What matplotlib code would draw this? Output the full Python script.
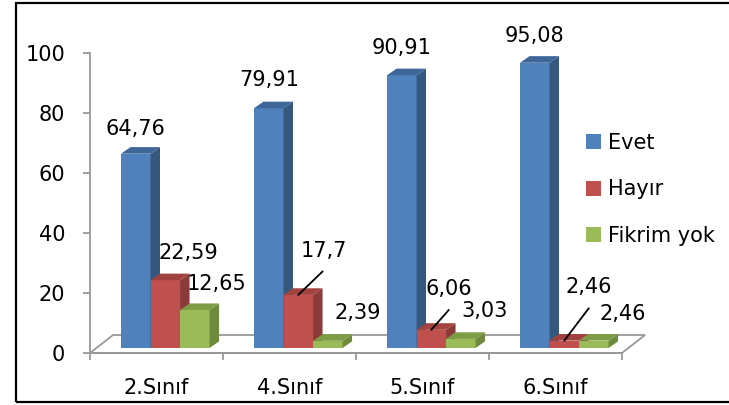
import matplotlib
matplotlib.use("Agg")
import matplotlib.pyplot as plt
from matplotlib.patches import Polygon, Patch, Rectangle

categories = ["2.Sınıf", "4.Sınıf", "5.Sınıf", "6.Sınıf"]
series_names = ["Evet", "Hayır", "Fikrim yok"]
evet = [64.76, 79.91, 90.91, 95.08]
hayir = [22.59, 17.7, 6.06, 2.46]
fikrim_yok = [12.65, 2.39, 3.03, 2.46]
y_ticks = [0, 20, 40, 60, 80, 100]

# label offsets in pixels (dx, dy up) from the top-front center of each bar
label_offsets = [
    [(0, 25), (0, 28), (0, 27), (0, 27)],
    [(23, 27), (26, 44), (18, 41), (24, 54)],
    [(22, 26), (30, 28), (24, 28), (29, 27)],
]
leader = [
    [False, False, False, False],
    [False, True, True, True],
    [False, False, False, False],
]

front = ["#4F81BD", "#C0504D", "#9BBB59"]
side = ["#36587F", "#8A3A38", "#6F8A3C"]
top = ["#3E6698", "#A2423F", "#7E9C45"]

W, H = 729, 405
fig = plt.figure(figsize=(W / 100, H / 100), dpi=100)
ax = fig.add_axes([90 / W, 52 / H, (622 - 90) / W, 300 / H])
ax.set_xlim(0, 4)
ax.set_ylim(0, 100)

gray = "#989898"
fs = 15.0

# floor (depth in data units)
fdx, fdy = 0.173, 6.0
ax.add_patch(Polygon([(0, 0), (4, 0), (4 + fdx, fdy), (fdx, fdy)], closed=True,
                     facecolor="white", edgecolor=gray, lw=1.3, zorder=1, clip_on=False))

bw = 0.222
b0 = 1.67
ddx, ddy = 0.0714, 2.2
shift = 0.066
data = [evet, hayir, fikrim_yok]

for s, vals in enumerate(data):
    xs = [i + 0.5 + shift + (s - 1) * bw for i in range(len(categories))]
    ax.bar(xs, vals, width=bw, bottom=b0, color=front[s], zorder=3 + s, clip_on=False)
    for i, (x, v) in enumerate(zip(xs, vals)):
        xl, xr = x - bw / 2, x + bw / 2
        yt = b0 + v
        ax.add_patch(Polygon([(xr, b0), (xr + ddx, b0 + ddy), (xr + ddx, yt + ddy), (xr, yt)],
                             closed=True, facecolor=side[s], edgecolor="none",
                             zorder=3 + s, clip_on=False))
        ax.add_patch(Polygon([(xl, yt), (xr, yt), (xr + ddx, yt + ddy), (xl + ddx, yt + ddy)],
                             closed=True, facecolor=top[s], edgecolor="none",
                             zorder=3 + s, clip_on=False))
        txt = f"{v:g}".replace(".", ",")
        ox, oy = label_offsets[s][i]
        if leader[s][i]:
            ax.annotate(txt, xy=(x, yt), xytext=(ox, oy), textcoords="offset pixels",
                        ha="center", va="center", fontsize=fs, zorder=10,
                        arrowprops=dict(arrowstyle="-", color="black", lw=1.3,
                                        relpos=(0.7, 0.0), shrinkA=8, shrinkB=0))
        else:
            ax.annotate(txt, xy=(x, yt), xytext=(ox, oy), textcoords="offset pixels",
                        ha="center", va="center", fontsize=fs, zorder=10)

for sp in ["top", "right"]:
    ax.spines[sp].set_visible(False)
ax.spines["left"].set_color(gray)
ax.spines["bottom"].set_color(gray)
ax.spines["left"].set_linewidth(1.3)
ax.spines["bottom"].set_linewidth(1.3)

ax.set_yticks(y_ticks)
ax.set_yticklabels([str(t) for t in y_ticks], fontsize=fs)
ax.tick_params(axis="y", direction="out", length=5, width=1.3, color=gray, pad=13)

ax.set_xticks([0, 1, 2, 3, 4])
ax.set_xticklabels([])
ax.set_xticks([i + 0.5 for i in range(len(categories))], minor=True)
ax.set_xticklabels(categories, minor=True, fontsize=fs)
ax.tick_params(axis="x", which="major", direction="out", length=5, width=1.3, color=gray)
ax.tick_params(axis="x", which="minor", length=0, pad=18)

handles = [Patch(facecolor=c, edgecolor="none") for c in front]
fig.legend(handles, series_names, loc="upper left", bbox_to_anchor=(586 / W, 1 - 133 / H),
           frameon=False, fontsize=fs, handlelength=0.72, handleheight=0.72,
           handletextpad=0.35, labelspacing=1.27, borderpad=0, borderaxespad=0)

fig.add_artist(Rectangle((16 / W, 3 / H), 1.0, 399 / H, transform=fig.transFigure,
                         fill=False, edgecolor="black", lw=1.6, clip_on=False))

fig.savefig("out.png", dpi=100)
